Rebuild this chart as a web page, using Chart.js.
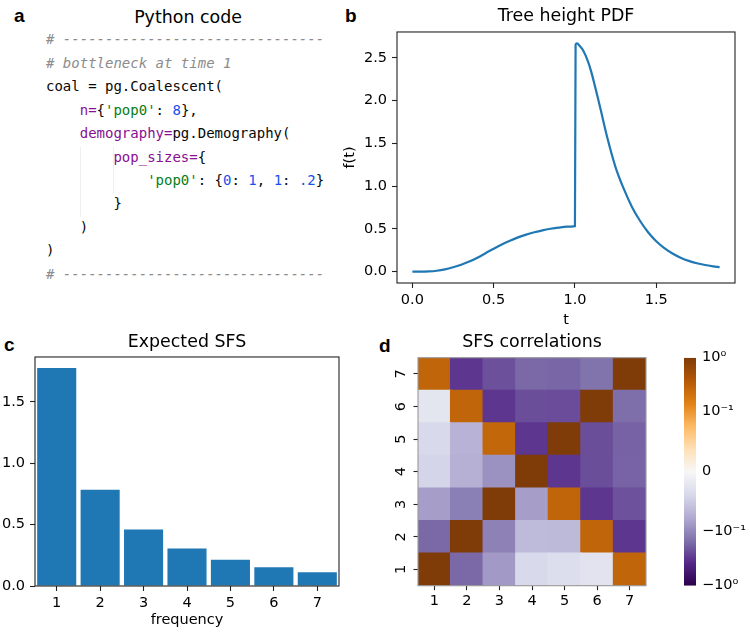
<!DOCTYPE html>
<html>
<head>
<meta charset="utf-8">
<script src="https://cdn.jsdelivr.net/npm/chart.js@4.4.1/dist/chart.umd.min.js"></script>
<style>
  body { margin: 0; width: 750px; height: 634px; overflow: hidden; background: #fff; position: relative; font-family: 'DejaVu Sans', sans-serif; }
  canvas { position: absolute; }
  .lbl { position: absolute; font: bold 19px/19px 'Liberation Sans', Arial, sans-serif; color: #000; }
  #codeTitle { position: absolute; left: 0; width: 376px; top: 6.5px; text-align: center; font-size: 17.4px; line-height: 20.88px; color: #000; }
  #code { position: absolute; left: 46px; top: 28.4px; margin: 0; font: 14px/23.43px 'DejaVu Sans Mono', monospace; color: #080808; }
  #code .c { color: #8c8c8c; font-style: italic; }
  #code .k { color: #871094; }
  #code .s { color: #067d17; }
  #code .n { color: #1750eb; }
  .guide { position: absolute; width: 0; border-left: 1px solid #efefef; }
</style>
</head>
<body>
<div class="lbl" style="left:14px; top:6px;">a</div>
<div class="lbl" style="left:345px; top:5.6px;">b</div>
<div class="lbl" style="left:4px; top:334.6px;">c</div>
<div class="lbl" style="left:379px; top:335.6px;">d</div>

<div id="codeTitle">Python code</div>
<div class="guide" style="left:80px; top:147px; height:70px;"></div>
<div class="guide" style="left:113px; top:147px; height:46px;"></div>
<pre id="code"><span class="c"># -------------------------------</span>
<span class="c"># bottleneck at time 1</span>
coal = pg.Coalescent(
    <span class="k">n=</span>{<span class="s">'pop0'</span>: <span class="n">8</span>},
    <span class="k">demography=</span>pg.Demography(
        <span class="k">pop_sizes=</span>{
            <span class="s">'pop0'</span>: {<span class="n">0</span>: <span class="n">1</span>, <span class="n">1</span>: <span class="n">.2</span>}
        }
    )
)
<span class="c"># -------------------------------</span></pre>

<canvas id="pdfChart" width="410" height="334" style="left:340px; top:0px; width:410px; height:334px;"></canvas>
<canvas id="sfsChart" width="374" height="312" style="left:0px; top:322px; width:374px; height:312px;"></canvas>
<canvas id="corrChart" width="304" height="312" style="left:380px; top:322px; width:304px; height:312px;"></canvas>
<canvas id="cbarChart" width="74" height="312" style="left:676px; top:322px; width:74px; height:312px;"></canvas>

<script>
// b: tree height density
const pdfT = [0, 0.05, 0.1, 0.15, 0.2, 0.25, 0.3, 0.35, 0.4, 0.45, 0.5, 0.55, 0.6, 0.65, 0.7, 0.75, 0.8, 0.85, 0.9, 0.95, 1.0,
              1.004, 1.012, 1.03, 1.05, 1.08, 1.1, 1.15, 1.2, 1.25, 1.3, 1.35, 1.4, 1.45, 1.5, 1.55, 1.6, 1.65, 1.7, 1.75, 1.8, 1.85, 1.89];
const pdfF = [0, 0.0, 0.002, 0.01, 0.026, 0.05, 0.08, 0.117, 0.163, 0.215, 0.268, 0.318, 0.362, 0.4, 0.433, 0.46, 0.483, 0.501, 0.515, 0.525, 0.532,
              2.655, 2.67, 2.64, 2.59, 2.46, 2.34, 1.96, 1.56, 1.22, 0.97, 0.76, 0.595, 0.46, 0.355, 0.275, 0.212, 0.163, 0.125, 0.097, 0.077, 0.062, 0.052];
const pdfTicksX = [0, 0.5, 1, 1.5];
const pdfTicksY = [0, 0.5, 1, 1.5, 2, 2.5];

// c: expected SFS
const sfsLabels = ['1', '2', '3', '4', '5', '6', '7'];
const sfsValues = [1.776, 0.783, 0.461, 0.306, 0.213, 0.153, 0.112];
const sfsTicksY = [0, 0.5, 1, 1.5];

// d: SFS correlations, row i = frequency i (bottom to top), column j = frequency j
const corrLabels = ['1', '2', '3', '4', '5', '6', '7'];
const corr = [
  [1.0, -0.164, -0.088, -0.038, -0.033, -0.026, 0.28],
  [-0.164, 1.0, -0.112, -0.064, -0.065, 0.28, -0.31],
  [-0.085, -0.115, 1.0, -0.085, 0.28, -0.31, -0.22],
  [-0.042, -0.072, -0.093, 1.0, -0.31, -0.23, -0.175],
  [-0.038, -0.07, 0.27, -0.31, 1.0, -0.23, -0.178],
  [-0.024, 0.28, -0.31, -0.23, -0.235, 1.0, -0.15],
  [0.28, -0.31, -0.225, -0.165, -0.17, -0.14, 1.0]
];
const cbMin = -1, cbMax = 1;
const cbTicks = [-1, -0.1, 0, 0.1, 1];
const cbTickLabels = ['−10⁰', '−10⁻¹', '0', '10⁻¹', '10⁰'];

Chart.defaults.font.family = "'DejaVu Sans', sans-serif";
Chart.defaults.font.size = 14.5;
Chart.defaults.color = '#000';

// PuOr_r, purple (low) to brown (high)
const puorR = [
  [45, 0, 75], [84, 39, 136], [128, 115, 172], [178, 171, 210], [216, 218, 235], [247, 247, 247],
  [254, 224, 182], [253, 184, 99], [224, 130, 20], [179, 88, 6], [127, 59, 8]
];
function cmap(p) {
  p = Math.min(1, Math.max(0, p));
  const s = p * (puorR.length - 1);
  const i = Math.min(Math.floor(s), puorR.length - 2);
  const f = s - i;
  const c = puorR[i].map((v, k) => Math.round(v + (puorR[i + 1][k] - v) * f));
  return 'rgb(' + c.join(',') + ')';
}
// matplotlib SymLogNorm(linthresh=0.1, linscale=1)
const LINTHRESH = 0.1, LINSCALE = 1 / (1 - 1 / 10);
function symlog(v) {
  const a = Math.abs(v);
  if (a <= LINTHRESH) return v * LINSCALE;
  return Math.sign(v) * LINTHRESH * (LINSCALE + Math.log10(a / LINTHRESH));
}
function norm(v) {
  return (symlog(v) - symlog(cbMin)) / (symlog(cbMax) - symlog(cbMin));
}

function framePlugin(color) {
  return {
    id: 'frame',
    afterDraw(chart) {
      const { ctx, chartArea: a } = chart;
      ctx.save();
      ctx.strokeStyle = color;
      ctx.lineWidth = 1.1;
      ctx.strokeRect(a.left, a.top, a.right - a.left, a.bottom - a.top);
      ctx.restore();
    }
  };
}

const tickGrid = { drawOnChartArea: false, drawTicks: true, tickLength: 5, tickColor: '#222', tickWidth: 1.1 };
const titleFont = { size: 17.4, weight: 'normal', lineHeight: 1.2 };
const noExtras = { legend: { display: false }, tooltip: { enabled: false } };

// b
new Chart(document.getElementById('pdfChart'), {
  type: 'line',
  data: {
    datasets: [{
      data: pdfT.map((t, i) => ({ x: t, y: pdfF[i] })),
      borderColor: '#1f77b4',
      borderWidth: 2.2,
      pointRadius: 0,
      cubicInterpolationMode: 'monotone',
      fill: false
    }]
  },
  options: {
    responsive: false,
    animation: false,
    layout: { padding: { right: 15 } },
    plugins: {
      ...noExtras,
      title: { display: true, text: 'Tree height PDF', fullSize: false, font: titleFont, padding: { top: 6.5, bottom: 4.6 } }
    },
    scales: {
      x: {
        type: 'linear',
        min: -0.0945,
        max: 1.9845,
        afterBuildTicks: s => { s.ticks = pdfTicksX.map(v => ({ value: v })); },
        afterFit: s => { s.height = 51; },
        ticks: { callback: v => v.toFixed(1), padding: 4, maxRotation: 0 },
        grid: tickGrid,
        border: { display: false },
        title: { display: true, text: 't', padding: { top: 0, bottom: 4.7 } }
      },
      y: {
        min: -0.1335,
        max: 2.8035,
        afterBuildTicks: s => { s.ticks = pdfTicksY.map(v => ({ value: v })); },
        afterFit: s => { s.width = 57; },
        ticks: { callback: v => v.toFixed(1), padding: 5 },
        grid: tickGrid,
        border: { display: false },
        title: { display: true, text: 'f(t)', padding: { top: 1.3, bottom: 0 } }
      }
    }
  },
  plugins: [framePlugin('#222')]
});

// c
new Chart(document.getElementById('sfsChart'), {
  type: 'bar',
  data: {
    labels: sfsLabels,
    datasets: [{
      data: sfsValues,
      backgroundColor: '#1f77b4',
      barPercentage: 0.9,
      categoryPercentage: 1
    }]
  },
  options: {
    responsive: false,
    animation: false,
    layout: { padding: { right: 35 } },
    plugins: {
      ...noExtras,
      title: { display: true, text: 'Expected SFS', fullSize: false, font: titleFont, padding: { top: 9.9, bottom: 4.2 } }
    },
    scales: {
      x: {
        afterFit: s => { s.height = 48; },
        ticks: { padding: 3.8, maxRotation: 0 },
        grid: { ...tickGrid, offset: false },
        border: { display: false },
        title: { display: true, text: 'frequency', padding: { top: 0, bottom: 4.7 } }
      },
      y: {
        min: 0,
        max: 1.865,
        afterBuildTicks: s => { s.ticks = sfsTicksY.map(v => ({ value: v })); },
        afterFit: s => { s.width = 35; },
        ticks: { callback: v => v.toFixed(1), padding: 5 },
        grid: tickGrid,
        border: { display: false }
      }
    }
  },
  plugins: [framePlugin('#222')]
});

// d: heatmap as floating bars, one dataset per row
new Chart(document.getElementById('corrChart'), {
  type: 'bar',
  data: {
    labels: corrLabels,
    datasets: corr.map((row, r) => ({
      data: row.map(() => [r + 0.5, r + 1.5]),
      backgroundColor: row.map(v => cmap(norm(v))),
      borderWidth: 0,
      grouped: false,
      barPercentage: 1,
      categoryPercentage: 1,
      inflateAmount: 0.6
    }))
  },
  options: {
    responsive: false,
    animation: false,
    layout: { padding: { right: 38 } },
    plugins: {
      ...noExtras,
      title: { display: true, text: 'SFS correlations', fullSize: false, font: titleFont, padding: { top: 10.5, bottom: 4.3 } }
    },
    scales: {
      x: {
        afterFit: s => { s.height = 48.3; },
        ticks: { padding: 2.8, maxRotation: 0 },
        grid: { ...tickGrid, offset: false, tickLength: 4.5 },
        border: { display: false }
      },
      y: {
        min: 0.5,
        max: 7.5,
        afterBuildTicks: s => { s.ticks = corrLabels.map((l, i) => ({ value: i + 1 })); },
        afterFit: s => { s.width = 38; },
        ticks: { callback: v => corrLabels[v - 1], minRotation: 90, maxRotation: 90, crossAlign: 'center', padding: 8 },
        grid: { ...tickGrid, tickLength: 4.5 },
        border: { display: false }
      }
    }
  },
  plugins: [framePlugin('#999')]
});

// d: colour bar
new Chart(document.getElementById('cbarChart'), {
  type: 'bar',
  data: {
    labels: [''],
    datasets: [{
      data: [[symlog(cbMin), symlog(cbMax)]],
      backgroundColor: ctx => {
        const area = ctx.chart.chartArea;
        if (!area) return cmap(0.5);
        const g = ctx.chart.ctx.createLinearGradient(0, area.bottom, 0, area.top);
        puorR.forEach((c, i) => g.addColorStop(i / (puorR.length - 1), 'rgb(' + c.join(',') + ')'));
        return g;
      },
      borderWidth: 0,
      barPercentage: 1,
      categoryPercentage: 1,
      inflateAmount: 0
    }]
  },
  options: {
    responsive: false,
    animation: false,
    layout: { padding: { left: 8, top: 35.7, bottom: 48.3 } },
    plugins: noExtras,
    scales: {
      x: { display: false },
      y: {
        position: 'right',
        min: symlog(cbMin),
        max: symlog(cbMax),
        afterBuildTicks: s => { s.ticks = cbTicks.map(v => ({ value: symlog(v) })); },
        afterFit: s => { s.width = 54; },
        ticks: { callback: (v, i) => cbTickLabels[i], padding: 6 },
        grid: { display: false, drawTicks: false },
        border: { display: false }
      }
    }
  }
});
</script>
</body>
</html>
